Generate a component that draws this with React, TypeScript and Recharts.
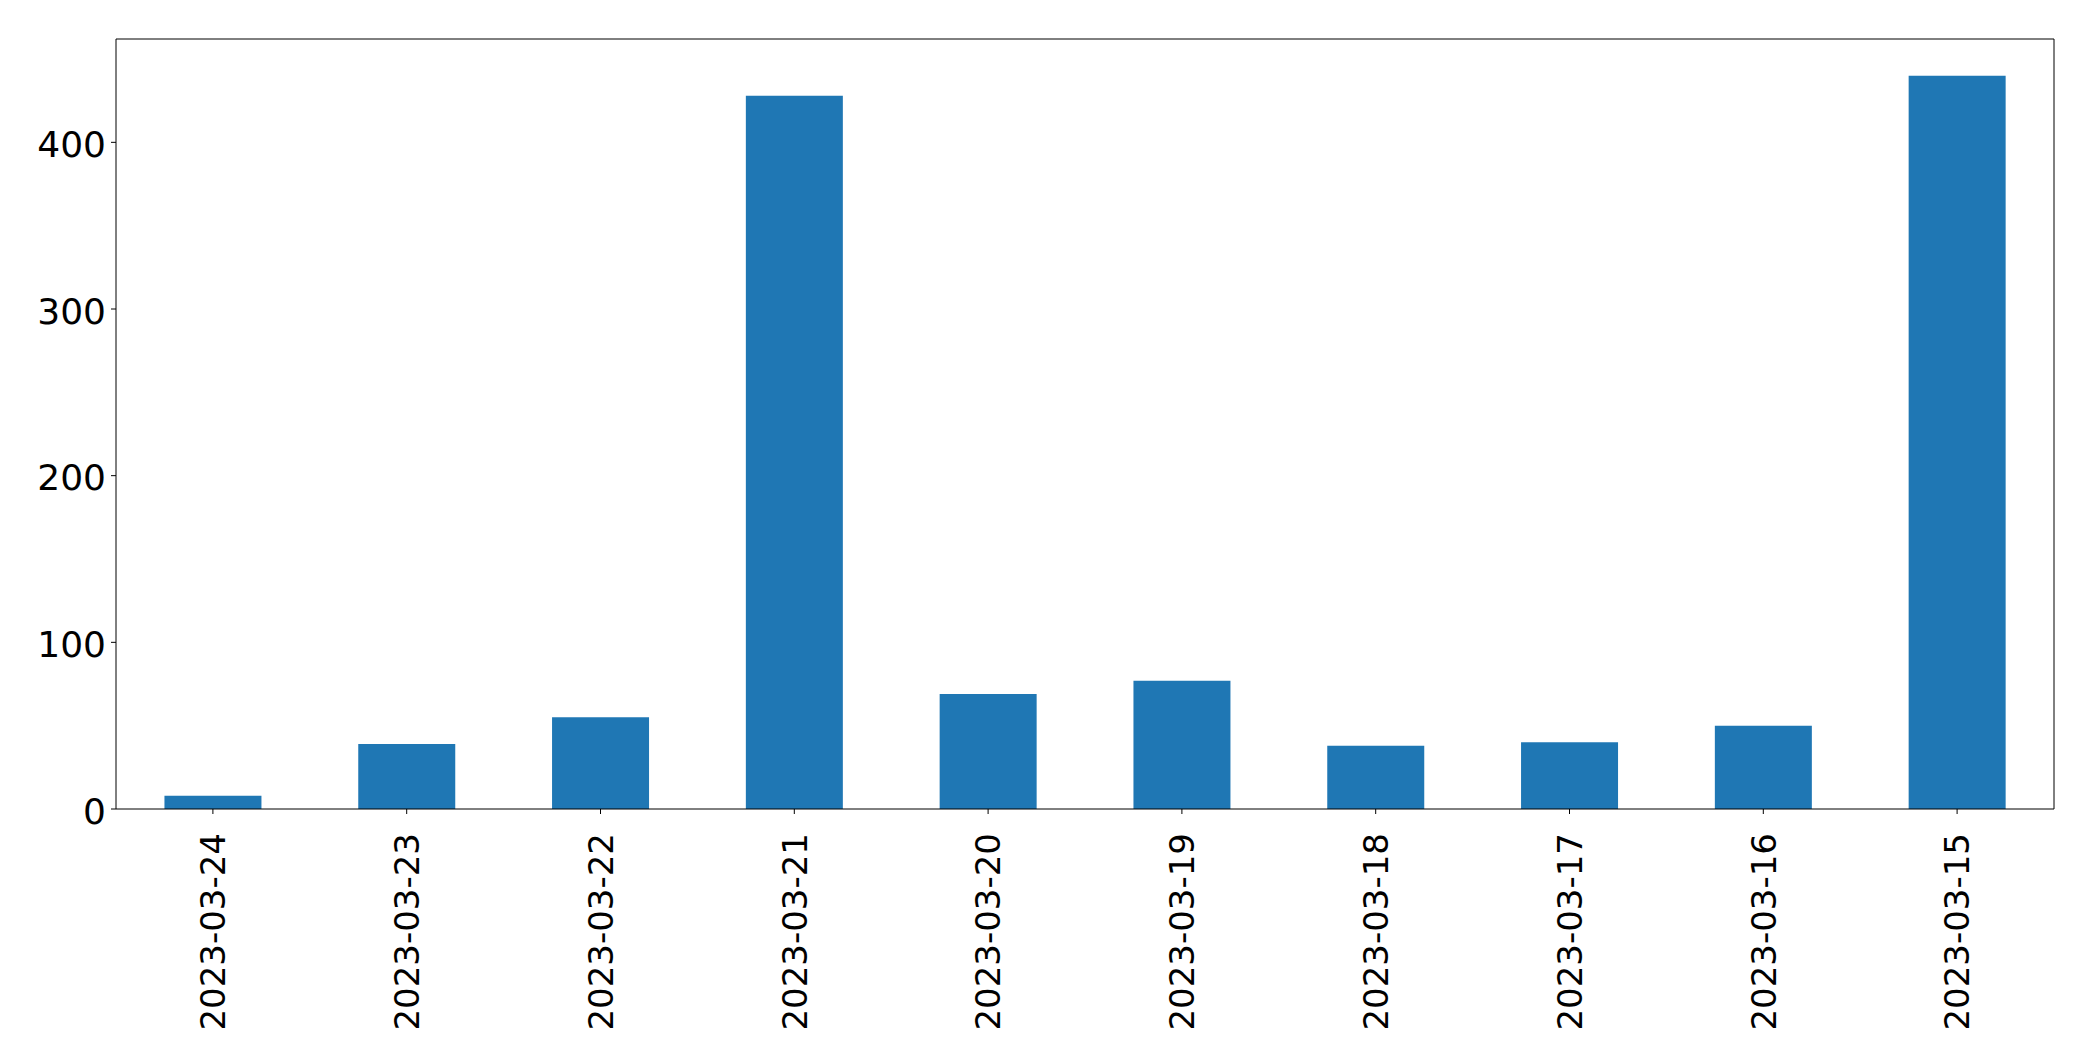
import { BarChart, Bar, XAxis, YAxis } from 'recharts';

const dates = [
  '2023-03-24',
  '2023-03-23',
  '2023-03-22',
  '2023-03-21',
  '2023-03-20',
  '2023-03-19',
  '2023-03-18',
  '2023-03-17',
  '2023-03-16',
  '2023-03-15',
];
const counts = [8, 39, 55, 428, 69, 77, 38, 40, 50, 440];
const yTicks = [0, 100, 200, 300, 400];

const FONT = '"DejaVu Sans", sans-serif';

const data = dates.map((d, i) => ({ date: d, count: counts[i] }));

function DateTick(props: any) {
  const { x, y, payload } = props;
  const ty = y + 17;
  return (
    <text
      x={x}
      y={ty}
      dy="0.36em"
      transform={`rotate(-90, ${x}, ${ty})`}
      textAnchor="end"
      fontSize={34}
      fontFamily={FONT}
      fill="#000"
    >
      {payload.value}
    </text>
  );
}

export default function App() {
  return (
    <div style={{ position: 'absolute', left: 0, top: 0, background: '#fff' }}>
      <BarChart
        width={2093}
        height={1061}
        data={data}
        margin={{ top: 38, right: 38, left: 0, bottom: 0 }}
        barCategoryGap="25%"
      >
        <XAxis
          dataKey="date"
          height={252}
          interval={0}
          tick={<DateTick />}
          tickSize={5}
          tickLine={{ stroke: '#000' }}
          axisLine={{ stroke: '#000' }}
        />
        <XAxis
          xAxisId="top"
          orientation="top"
          dataKey="date"
          height={1}
          tick={false}
          tickLine={false}
          axisLine={{ stroke: '#000' }}
        />
        <YAxis
          width={116}
          domain={[0, 462]}
          ticks={yTicks}
          tickSize={5}
          tickMargin={5}
          tick={{ fontSize: 36, fontFamily: FONT, fill: '#000', dy: 2 }}
          tickLine={{ stroke: '#000' }}
          axisLine={{ stroke: '#000' }}
        />
        <YAxis
          yAxisId="right"
          orientation="right"
          width={1}
          domain={[0, 462]}
          tick={false}
          tickLine={false}
          axisLine={{ stroke: '#000' }}
        />
        <Bar dataKey="count" fill="#1f77b4" isAnimationActive={false} />
      </BarChart>
    </div>
  );
}
